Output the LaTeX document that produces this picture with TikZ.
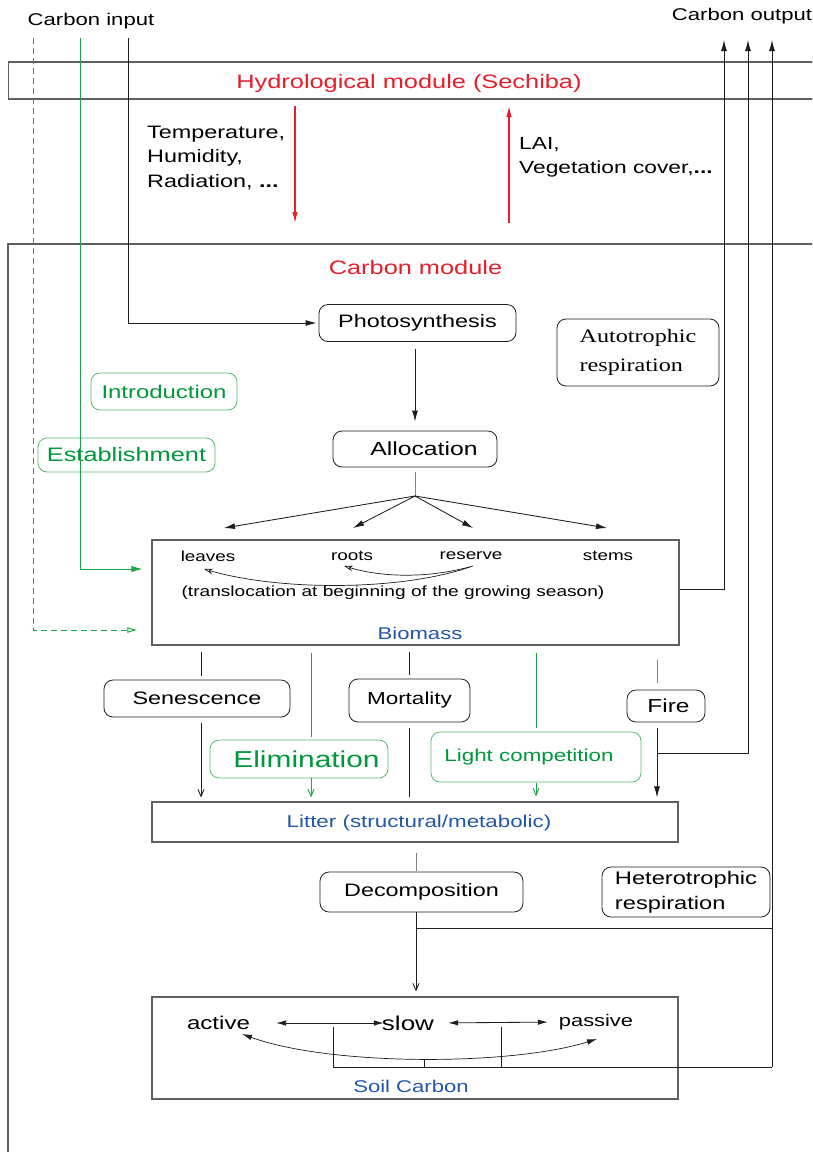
\documentclass[tikz,border=0pt]{standalone}
\usepackage{fontspec}
\setmainfont{Liberation Sans}[FakeStretch=1.3]
\newfontfamily\serifff{Liberation Serif}[FakeStretch=1.27]
\usetikzlibrary{arrows.meta,calc}
\definecolor{cred}{RGB}{232,30,45}
\definecolor{gtext}{RGB}{0,150,60}
\definecolor{gboxc}{RGB}{90,185,115}
\definecolor{glinec}{RGB}{30,165,75}
\definecolor{cblue}{RGB}{35,85,170}
\definecolor{linec}{RGB}{30,30,30}
\definecolor{framec}{RGB}{95,95,95}
\definecolor{grayln}{RGB}{130,130,130}
\newcommand{\fsz}[2]{\fontsize{#1}{#2}\selectfont}
\tikzset{
  lbl/.style={inner sep=0pt},
  rbox/.style={draw=linec, rounded corners=9pt, line width=0.8pt, inner sep=0pt},
  gbox/.style={rbox, draw=gboxc, text=gtext},
  sbox/.style={draw=framec, line width=1.1pt, inner sep=0pt},
  ln/.style={draw=linec, line width=0.85pt},
  gln/.style={draw=glinec, line width=0.95pt},
  gyln/.style={draw=grayln, line width=0.9pt},
  ar/.style={ln, -{Latex[length=11pt,width=6pt]}},
  arV/.style={ln, -{Straight Barb[length=7pt,width=6pt]}},
  garV/.style={gln, -{Straight Barb[length=7pt,width=6pt]}},
  rar/.style={draw=cred, line width=1.1pt, -{Latex[length=11pt,width=5.5pt]}},
  frame/.style={draw=framec, line width=1.1pt},
  curv/.style={ln, line width=0.7pt, -{Stealth[length=9pt,width=5.5pt,open]}},
}
\begin{document}
\begin{tikzpicture}[x=1pt,y=-1pt]
\useasboundingbox (0,0) rectangle (812,1152);
\clip (0,0) rectangle (812,1152);
\fill[white] (0,0) rectangle (812,1152);

% top labels
\node[lbl, font=\fsz{17}{20}] (cin) at (91,21) {Carbon input};
\node[lbl, font=\fsz{17}{20}] (cout) at (742,16) {Carbon output};

% hydrological module
\node[sbox, minimum width=830pt, minimum height=37pt, anchor=west] (hydro) at (8,80.5) {};
\node[lbl, font=\fsz{19.5}{23}, text=cred] (hydrotxt) at (409,83) {Hydrological module (Sechiba)};
\node[lbl, font=\fsz{18}{24.5}, align=left, anchor=west] (temp) at (147,157.5) {Temperature,\\Humidity,\\Radiation, \textbf{...}};
\node[lbl, font=\fsz{17.5}{24}, align=left, anchor=west] (lai) at (519,157) {LAI,\\Vegetation cover,\textbf{...}};
\coordinate (rd1) at (295,106);
\coordinate (rd2) at (295,223);
\coordinate (ru1) at (509,223);
\coordinate (ru2) at (509,106);
\draw[rar] (rd1) -- (rd2);
\draw[rar] (ru1) -- (ru2);

% carbon module frame
\draw[frame] (8,1160) -- (8,244) -- (830,244);
\node[lbl, font=\fsz{19.5}{23}, text=cred] (cmod) at (415.5,268) {Carbon module};

% boxes
\node[rbox, minimum width=197pt, minimum height=37pt, font=\fsz{18}{22}] (photo) at (417.5,323) {Photosynthesis};
\node[rbox, minimum width=162pt, minimum height=67pt, font=\serifff\fsz{19}{29}, align=left] (auto) at (638,352.5) {Autotrophic\\respiration};
\node[gbox, minimum width=146pt, minimum height=37pt, font=\fsz{18.4}{22}] (intro) at (164,391.5) {Introduction};
\node[gbox, minimum width=177pt, minimum height=34pt, font=\fsz{19.5}{23}] (estab) at (126.5,455) {Establishment};
\node[rbox, minimum width=164pt, minimum height=36pt, font=\fsz{19}{23}] (alloc) at (415,449) {\hspace*{18pt}Allocation};

% biomass
\node[sbox, minimum width=527pt, minimum height=105pt] (biomass) at (415.5,592.5) {};
\node[lbl, font=\fsz{14.5}{17}] (leaves) at (208,556) {leaves};
\node[lbl, font=\fsz{14.5}{17}] (roots) at (352,556) {roots};
\node[lbl, font=\fsz{14.5}{17}] (reserve) at (471,556) {reserve};
\node[lbl, font=\fsz{14.5}{17}] (stems) at (608,556) {stems};
\node[lbl, font=\fsz{14.7}{17}] (transl) at (393,593) {(translocation at beginning of the growing season)};
\node[lbl, font=\fsz{17}{20}, text=cblue] (biolbl) at (420,633) {Biomass};

% processes
\node[rbox, minimum width=186pt, minimum height=37pt, font=\fsz{18}{22}] (sen) at (197,698.5) {Senescence};
\node[gbox, minimum width=178pt, minimum height=38pt, font=\fsz{23}{27}] (elim) at (299,759) {\hspace*{15pt}Elimination};
\node[rbox, minimum width=121pt, minimum height=43pt, font=\fsz{17.3}{21}] (mort) at (409.5,700.5) {\raisebox{3.5pt}{Mortality}};
\node[gbox, minimum width=210pt, minimum height=50pt, font=\fsz{17.2}{21}] (light) at (536,757) {Light competition\hspace*{14pt}};
\node[rbox, minimum width=78pt, minimum height=32pt, font=\fsz{18.8}{22}] (fire) at (666,706) {\hspace*{5pt}Fire};

% litter
\node[sbox, minimum width=526pt, minimum height=40pt] (litter) at (415,822) {};
\node[lbl, font=\fsz{17.2}{20}, text=cblue] (littxt) at (419,823) {Litter (structural/metabolic)};

\node[rbox, minimum width=203pt, minimum height=40pt, font=\fsz{18}{22}] (decomp) at (421.5,892) {Decomposition};
\node[rbox, minimum width=168pt, minimum height=50pt, font=\fsz{18.2}{25}, align=left] (hetero) at (686,892) {Heterotrophic\\respiration};

% soil
\node[sbox, minimum width=526pt, minimum height=102pt] (soil) at (415,1048) {};
\node[lbl, font=\fsz{18.5}{22}] (active) at (218.5,1023) {active};
\node[lbl, font=\fsz{20}{24}] (slow) at (408,1023) {slow};
\node[lbl, font=\fsz{16.8}{20}] (passive) at (596,1022) {passive};
\node[lbl, font=\fsz{17}{20}, text=cblue] (soillbl) at (411,1086) {Soil Carbon};

% coordinates
\coordinate (t1) at (33,38);
\coordinate (t2) at (80,38);
\coordinate (t3) at (128.5,38);
\coordinate (o1) at (724,40);
\coordinate (o2) at (748,40);
\coordinate (o3) at (772,40);
\coordinate (split) at (415,496);
\coordinate (a1) at (224,528);
\coordinate (a2) at (353,528);
\coordinate (a3) at (473,528);
\coordinate (a4) at (607,528);
\coordinate (xs) at (201,0);
\coordinate (xe) at (311,0);
\coordinate (xm) at (409,0);
\coordinate (xl) at (536,0);
\coordinate (xf) at (657,0);
\coordinate (xd) at (416,0);
\coordinate (fb) at (657,753);
\coordinate (dj) at (416,928);
\coordinate (br) at (772,1067);

% carbon inputs
\draw[gln, dash pattern=on 6pt off 4pt, -{Latex[length=10pt,width=6pt,open]}, shorten >=14pt] (t1) |- ([yshift=-37.5pt]biomass.west);
\draw[gln, -{Latex[length=11pt,width=6.5pt]}, shorten >=9pt] (t2) |- ([yshift=23.5pt]biomass.west);
\draw[ar, shorten >=2pt] (t3) |- (photo.west);

% photosynthesis -> allocation -> biomass
\draw[ar, shorten <=7pt, shorten >=9pt] (alloc.north |- photo.south) -- (alloc.north);
\draw[gyln, shorten <=5pt] (alloc.south) -- (split);
\draw[ar] (split) -- (a1);
\draw[ar] (split) -- (a2);
\draw[ar] (split) -- (a3);
\draw[ar] (split) -- (a4);

% translocation curves
\draw[curv] (473,566) .. controls (430,578) and (385,578) .. (344,566);
\draw[curv] (470,567) .. controls (400,591) and (280,591) .. (204,569);

% outputs
\draw[ar] ([yshift=3.5pt]biomass.east) -| (o1);
\draw[ar] (fb) -| (o2);
\draw[ar] (br) -- (o3);
\draw[ln] (dj) -- (dj -| br);

% biomass -> processes -> litter
\draw[ln, shorten <=6pt, shorten >=4pt] (biomass.south -| xs) -- (sen.north -| xs);
\draw[arV, shorten <=6pt, shorten >=4pt] (sen.south -| xs) -- (litter.north -| xs);
\draw[gln, shorten <=7pt, shorten >=3pt] (biomass.south -| xe) -- (elim.north -| xe);
\draw[garV, shorten >=4pt] (elim.south -| xe) -- (litter.north -| xe);
\draw[ln, shorten <=6pt, shorten >=4pt] (biomass.south -| xm) -- (mort.north -| xm);
\draw[ln, shorten <=6pt, shorten >=4pt] (mort.south -| xm) -- (litter.north -| xm);
\draw[gln, shorten <=7pt, shorten >=4pt] (biomass.south -| xl) -- (light.north -| xl);
\draw[garV, shorten <=1pt, shorten >=5pt] (light.south -| xl) -- (litter.north -| xl);
\draw[gyln, shorten <=14pt, shorten >=7pt] (biomass.south -| xf) -- (fire.north -| xf);
\draw[ar, shorten <=6pt, shorten >=4pt] (fire.south -| xf) -- (litter.north -| xf);

% litter -> decomposition -> soil
\draw[gyln, shorten <=10pt, shorten >=1pt] (litter.south -| xd) -- (decomp.north -| xd);
\draw[arV, shorten >=5pt] (decomp.south -| xd) -- (soil.north -| xd);

% soil internals
\draw[ln, {Latex[length=10pt,width=5.5pt]}-{Latex[length=10pt,width=5.5pt]}, shorten <=26pt, shorten >=-2pt] (active.east) -- (slow.west);
\draw[ln, {Latex[length=10pt,width=5.5pt]}-{Latex[length=10pt,width=5.5pt]}, shorten <=14pt, shorten >=11pt] (slow.east) -- (passive.west);
\draw[ln, line width=0.7pt, {Latex[length=10pt,width=5.5pt]}-{Latex[length=10pt,width=5.5pt]}] (242,1034) .. controls (330,1066) and (510,1066) .. (597,1039);
\draw[ln, line width=0.7pt] (333,1027) -- (333,1067) -- (br);
\draw[ln, line width=0.7pt] (501,1027) -- (501,1067);
\draw[ln, line width=0.7pt] (424,1059) -- (424,1067);
\end{tikzpicture}
\end{document}
